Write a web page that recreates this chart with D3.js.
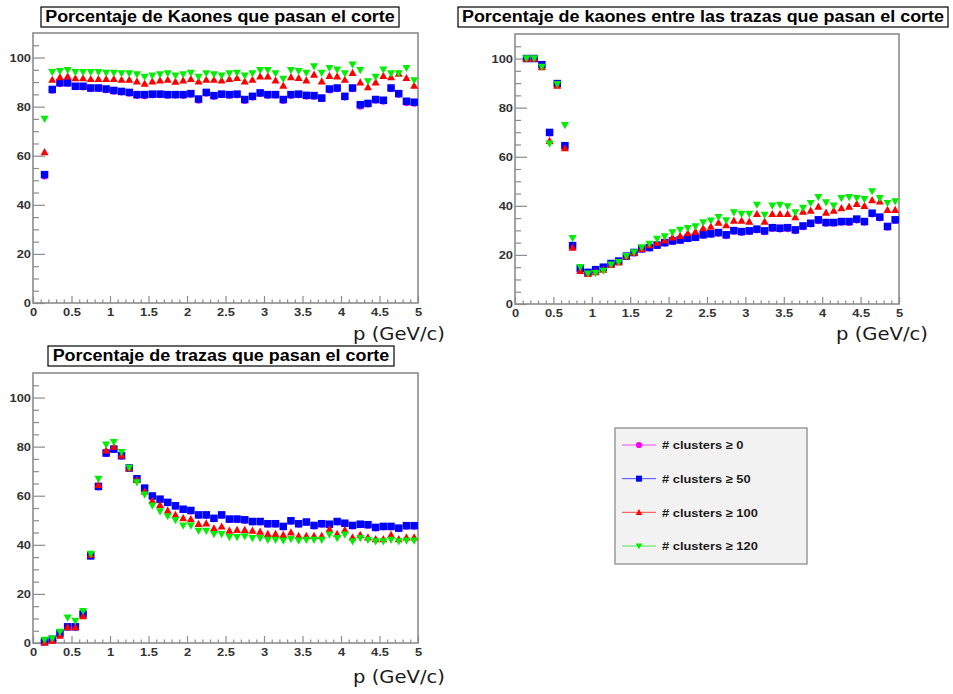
<!DOCTYPE html>
<html>
<head>
<meta charset="utf-8">
<script src="https://cdn.jsdelivr.net/npm/d3@7"></script>
<style>
  body { margin: 0; background: #fff; }
  svg { display: block; }
</style>
</head>
<body>
<svg id="fig" width="953" height="694"></svg>
<script>
// Centros de los bins de momento (GeV/c)
const momentos = [0.15,0.25,0.35,0.45,0.55,0.65,0.75,0.85,0.95,1.05,
  1.15,1.25,1.35,1.45,1.55,1.65,1.75,1.85,1.95,2.05,
  2.15,2.25,2.35,2.45,2.55,2.65,2.75,2.85,2.95,3.05,
  3.15,3.25,3.35,3.45,3.55,3.65,3.75,3.85,3.95,4.05,
  4.15,4.25,4.35,4.45,4.55,4.65,4.75,4.85,4.95];

// Porcentaje de kaones que pasan el corte
const kaonesC0 = [51.6,86.6,89.3,89.4,88.0,87.9,87.2,87.3,86.8,86.2,
  85.9,85.4,84.4,84.3,84.7,84.8,84.5,84.6,84.5,84.9,
  82.5,85.4,84.1,84.8,84.5,84.7,82.4,83.8,85.2,84.5,
  84.6,82.4,84.5,84.7,84.2,84.1,83.1,86.7,87.2,83.8,
  87.2,80.1,81.0,82.5,82.1,87.2,84.9,81.5,81.3];
const kaonesC50 = [52.3,87.0,89.7,89.7,88.3,88.3,87.6,87.6,87.2,86.6,
  86.2,85.8,84.9,84.9,85.1,85.1,84.9,84.9,84.9,85.3,
  83.1,85.8,84.5,85.1,84.9,85.1,82.9,84.2,85.6,84.9,
  84.9,82.9,84.9,85.1,84.6,84.5,83.5,87.2,87.6,84.2,
  87.6,80.8,81.3,82.9,82.6,87.6,85.3,82.2,81.8];
const kaonesC100 = [61.5,91.0,92.1,92.4,91.6,91.6,91.3,91.3,91.3,91.3,
  91.0,91.0,90.3,89.4,90.3,90.7,91.0,90.2,90.7,91.3,
  90.3,91.0,91.0,90.7,91.3,91.7,90.3,91.0,92.4,92.4,
  90.7,88.6,92.1,91.7,90.7,93.1,90.3,92.6,92.4,91.0,
  93.8,89.9,88.0,89.9,92.6,92.1,93.5,91.7,88.6];
const kaonesC120 = [75.0,94.0,94.4,94.8,94.0,94.0,94.0,94.0,93.7,93.7,
  93.5,93.5,93.1,92.1,92.6,93.1,93.5,92.6,93.1,93.7,
  92.1,93.5,93.1,92.6,93.5,93.7,92.6,93.5,94.8,94.8,
  93.5,91.3,94.8,94.4,93.7,96.4,93.7,95.7,95.0,93.5,
  97.1,94.8,90.3,92.1,95.0,93.5,93.5,95.7,90.7];

// Porcentaje de kaones entre las trazas que pasan el corte
const purezaC0 = [100,100,97.2,69.6,89.5,64.2,23.5,14.2,12.6,13.7,
  14.7,16.2,17.2,19.2,20.7,22.2,22.7,23.7,24.7,25.4,
  25.8,26.5,26.9,27.9,28.3,28.7,27.7,29.5,29.1,29.4,
  30.1,29.4,30.7,30.5,30.6,29.8,31.4,32.5,33.8,32.8,
  32.8,33.2,33.1,34.1,33.2,36.6,35.0,31.2,33.9];
const purezaC50 = [100,100,97.5,69.9,89.8,64.5,23.8,14.5,12.9,14.0,
  15.0,16.5,17.5,19.5,21.0,22.5,23.0,24.0,25.0,25.7,
  26.1,26.8,27.2,28.2,28.6,29.1,28.2,29.9,29.5,29.8,
  30.5,29.8,31.1,30.9,31.1,30.2,31.8,32.9,34.3,33.2,
  33.2,33.6,33.6,34.6,33.6,37.0,35.4,31.6,34.3];
const purezaC100 = [100,100,96.5,66.5,89.0,63.5,23.0,13.5,12.3,13.0,
  14.0,16.0,17.0,19.5,21.0,22.5,24.0,25.0,26.0,27.2,
  27.8,28.9,29.5,30.9,31.6,33.2,32.2,34.0,34.0,33.6,
  36.7,33.6,36.7,36.7,36.7,35.4,37.7,38.1,39.7,37.3,
  38.1,39.1,39.7,40.8,40.0,42.4,41.8,38.4,38.4];
const purezaC120 = [100,100,96.6,65.3,89.5,72.8,26.8,15.0,12.3,12.5,
  13.5,16.0,17.0,19.5,21.0,23.0,24.5,26.5,27.5,29.1,
  30.2,30.9,31.6,33.2,33.9,35.4,34.0,37.3,36.7,36.7,
  40.4,36.3,40.0,40.4,39.7,37.3,39.1,41.1,43.5,41.4,
  40.0,43.1,43.5,43.1,42.7,45.9,43.1,41.1,41.8];

// Porcentaje de trazas que pasan el corte
const trazasC0 = [0.4,1.3,3.7,6.4,6.4,11.6,35.3,63.5,77.1,78.7,
  76.0,71.0,66.6,62.8,59.6,58.3,57.0,55.6,54.2,53.7,
  51.9,51.9,50.5,51.9,50.2,50.2,49.9,49.2,49.2,48.3,
  48.3,47.2,49.5,48.3,49.0,47.6,48.3,48.1,49.2,48.5,
  47.6,48.1,47.9,46.8,47.2,47.2,46.5,47.5,47.5];
const trazasC50 = [0.5,1.5,3.9,6.6,6.6,11.8,35.5,63.8,77.4,79.0,
  76.3,71.3,66.9,63.1,59.9,58.6,57.3,55.9,54.5,54.0,
  52.2,52.2,50.8,52.2,50.5,50.5,50.2,49.5,49.5,48.6,
  48.6,47.5,49.8,48.6,49.3,47.9,48.6,48.4,49.5,48.8,
  47.9,48.4,48.2,47.1,47.5,47.5,46.8,47.8,47.8];
const trazasC100 = [0.3,1.0,3.0,6.5,6.5,11.0,36.0,64.5,78.5,80.0,
  76.5,71.3,66.5,61.8,58.0,56.3,54.0,52.2,50.9,50.5,
  48.6,48.8,46.8,47.5,45.8,46.1,46.1,45.8,45.4,44.5,
  44.5,44.1,45.1,43.7,43.7,43.7,43.7,46.4,44.5,46.1,
  43.1,44.1,43.1,42.4,42.4,44.1,42.4,43.1,43.1];
const trazasC120 = [1.2,1.8,4.5,10.3,9.0,13.0,36.3,66.8,80.8,81.8,
  77.7,71.3,65.4,60.4,55.9,53.6,51.6,50.0,47.8,47.8,
  45.6,45.6,44.3,44.3,43.1,43.1,43.4,42.7,42.7,42.0,
  42.0,41.7,42.3,41.7,42.0,42.0,42.0,44.1,42.7,44.1,
  41.4,42.7,42.0,41.4,41.4,42.0,41.4,41.7,41.7];

const etiquetasLeyenda = ["# clusters \u2265 0", "# clusters \u2265 50", "# clusters \u2265 100", "# clusters \u2265 120"];
const titulos = ["Porcentaje de Kaones que pasan el corte",
  "Porcentaje de kaones entre las trazas que pasan el corte",
  "Porcentaje de trazas que pasan el corte"];
const tituloEjeX = "p (GeV/c)";
const ticksX = [0, 0.5, 1, 1.5, 2, 2.5, 3, 3.5, 4, 4.5, 5];
const etiquetasX = ["0", "0.5", "1", "1.5", "2", "2.5", "3", "3.5", "4", "4.5", "5"];
const ticksY = [0, 20, 40, 60, 80, 100];

// Estilo de cada serie: marcador y color
const estilos = [
  { color: "#ff00ff", marca: "circulo" },
  { color: "#0000ff", marca: "cuadrado" },
  { color: "#ff0000", marca: "trianguloArriba" },
  { color: "#00ee00", marca: "trianguloAbajo" }
];

const ESTIRAR = 1.12;
function ensanchar(sel) {
  sel.each(function () {
    const n = this.getComputedTextLength();
    if (n > 0) {
      this.setAttribute("textLength", (n * ESTIRAR).toFixed(2));
      this.setAttribute("lengthAdjust", "spacingAndGlyphs");
    }
  });
}

function formaMarca(tipo, s) {
  const h = s / 2;
  if (tipo === "cuadrado") return `M${-h},${-h}H${h}V${h}H${-h}Z`;
  if (tipo === "trianguloArriba") return `M0,${-h}L${h},${h * 0.8}L${-h},${h * 0.8}Z`;
  if (tipo === "trianguloAbajo") return `M0,${h}L${h},${-h * 0.8}L${-h},${-h * 0.8}Z`;
  return d3.arc()({ innerRadius: 0, outerRadius: h * 0.95, startAngle: 0, endAngle: 2 * Math.PI });
}

const svg = d3.select("#fig");
svg.append("rect").attr("width", 953).attr("height", 694).attr("fill", "#fff");

const paneles = [
  { titulo: titulos[0], series: [kaonesC0, kaonesC50, kaonesC100, kaonesC120],
    marco: { x0: 33, x1: 418, y0: 33, y1: 303 },
    caja: { x: 41, y: 7, w: 358, h: 20, base: 21.5 },
    ejeX: { x: 445, y: 340 } },
  { titulo: titulos[1], series: [purezaC0, purezaC50, purezaC100, purezaC120],
    marco: { x0: 515, x1: 899, y0: 34, y1: 304 },
    caja: { x: 458, y: 7, w: 490, h: 20, base: 21.5 },
    ejeX: { x: 928, y: 340 } },
  { titulo: titulos[2], series: [trazasC0, trazasC50, trazasC100, trazasC120],
    marco: { x0: 33, x1: 418, y0: 373, y1: 643 },
    caja: { x: 48, y: 346, w: 346, h: 20, base: 361 },
    ejeX: { x: 445, y: 683 } }
];

const grisMarco = "#8c8c8c";

paneles.forEach(p => {
  const m = p.marco;
  const x = d3.scaleLinear().domain([0, 5]).range([m.x0, m.x1]);
  const y = d3.scaleLinear().domain([0, 110]).range([m.y1, m.y0]);
  const g = svg.append("g");

  // Eje X: marcas mayores y menores hacia dentro
  const menoresX = d3.range(0, 51).map(i => i / 10).filter(v => !ticksX.includes(v));
  const ejeXMenor = g.append("g").attr("transform", `translate(0,${m.y1})`)
    .call(d3.axisBottom(x).tickValues(menoresX).tickSize(-3.5).tickFormat(""));
  const ejeXMayor = g.append("g").attr("transform", `translate(0,${m.y1})`)
    .call(d3.axisBottom(x).tickValues(ticksX).tickSize(-7).tickPadding(4.5)
      .tickFormat((d, i) => etiquetasX[i]));

  // Eje Y
  const menoresY = d3.range(0, 110, 5).filter(v => !ticksY.includes(v));
  const ejeYMenor = g.append("g").attr("transform", `translate(${m.x0},0)`)
    .call(d3.axisLeft(y).tickValues(menoresY).tickSize(-6).tickFormat(""));
  const ejeYMayor = g.append("g").attr("transform", `translate(${m.x0},0)`)
    .call(d3.axisLeft(y).tickValues(ticksY).tickSize(-12).tickPadding(2));

  [ejeXMenor, ejeXMayor, ejeYMenor, ejeYMayor].forEach(a => {
    a.select(".domain").remove();
    a.selectAll("line").attr("stroke", grisMarco).attr("stroke-width", 1.2);
    a.selectAll("text").attr("font-family", "Liberation Sans, Arial, sans-serif")
      .attr("font-weight", "bold").attr("font-size", 11.5).attr("fill", "#333");
  });
  ensanchar(ejeXMayor.selectAll("text"));
  ensanchar(ejeYMayor.selectAll("text"));

  // Marco
  g.append("rect").attr("x", m.x0).attr("y", m.y0)
    .attr("width", m.x1 - m.x0).attr("height", m.y1 - m.y0)
    .attr("fill", "none").attr("stroke", grisMarco).attr("stroke-width", 1.6);

  // Puntos de cada serie
  p.series.forEach((serie, k) => {
    const e = estilos[k];
    const tam = e.marca === "cuadrado" ? 7.5 : (e.marca === "circulo" ? 7 : 8);
    g.append("g").selectAll("path").data(serie).join("path")
      .attr("transform", (d, i) => `translate(${x(momentos[i])},${y(d)})`)
      .attr("d", formaMarca(e.marca, tam))
      .attr("fill", e.color);
  });

  // Caja del título
  const c = p.caja;
  svg.append("rect").attr("x", c.x).attr("y", c.y).attr("width", c.w).attr("height", c.h)
    .attr("fill", "#fff").attr("stroke", "#000").attr("stroke-width", 1.2);
  const t = svg.append("text").attr("x", c.x + c.w / 2).attr("y", c.base)
    .attr("text-anchor", "middle")
    .attr("font-family", "Liberation Sans, Arial, sans-serif")
    .attr("font-weight", "bold").attr("font-size", 16).attr("fill", "#000")
    .text(p.titulo);
  ensanchar(t);

  // Título del eje X
  const tx = svg.append("text").attr("x", p.ejeX.x).attr("y", p.ejeX.y)
    .attr("text-anchor", "end")
    .attr("font-family", "DejaVu Sans, Verdana, sans-serif")
    .attr("font-size", 17.5).attr("fill", "#1a1a1a")
    .text(tituloEjeX);
  ensanchar(tx);
});

// Leyenda
const ley = svg.append("g");
ley.append("rect").attr("x", 615).attr("y", 428).attr("width", 192).attr("height", 136)
  .attr("fill", "#f2f2f2").attr("stroke", "#8c8c8c").attr("stroke-width", 1.3);
const filasY = d3.scalePoint().domain(d3.range(etiquetasLeyenda.length)).range([445, 546]);
etiquetasLeyenda.forEach((txt, k) => {
  const e = estilos[k];
  const yy = filasY(k);
  ley.append("line").attr("x1", 622).attr("x2", 656).attr("y1", yy).attr("y2", yy)
    .attr("stroke", e.color).attr("stroke-width", 1).attr("stroke-opacity", 0.7);
  ley.append("path").attr("transform", `translate(639,${yy})`)
    .attr("d", formaMarca(e.marca, e.marca === "cuadrado" ? 6 : 6.5)).attr("fill", e.color);
  const t = ley.append("text").attr("x", 662).attr("y", yy + 4.2)
    .attr("font-family", "Liberation Sans, Arial, sans-serif")
    .attr("font-weight", "bold").attr("font-size", 11.5).attr("fill", "#1a1a1a")
    .text(txt);
  ensanchar(t);
});
</script>
</body>
</html>
